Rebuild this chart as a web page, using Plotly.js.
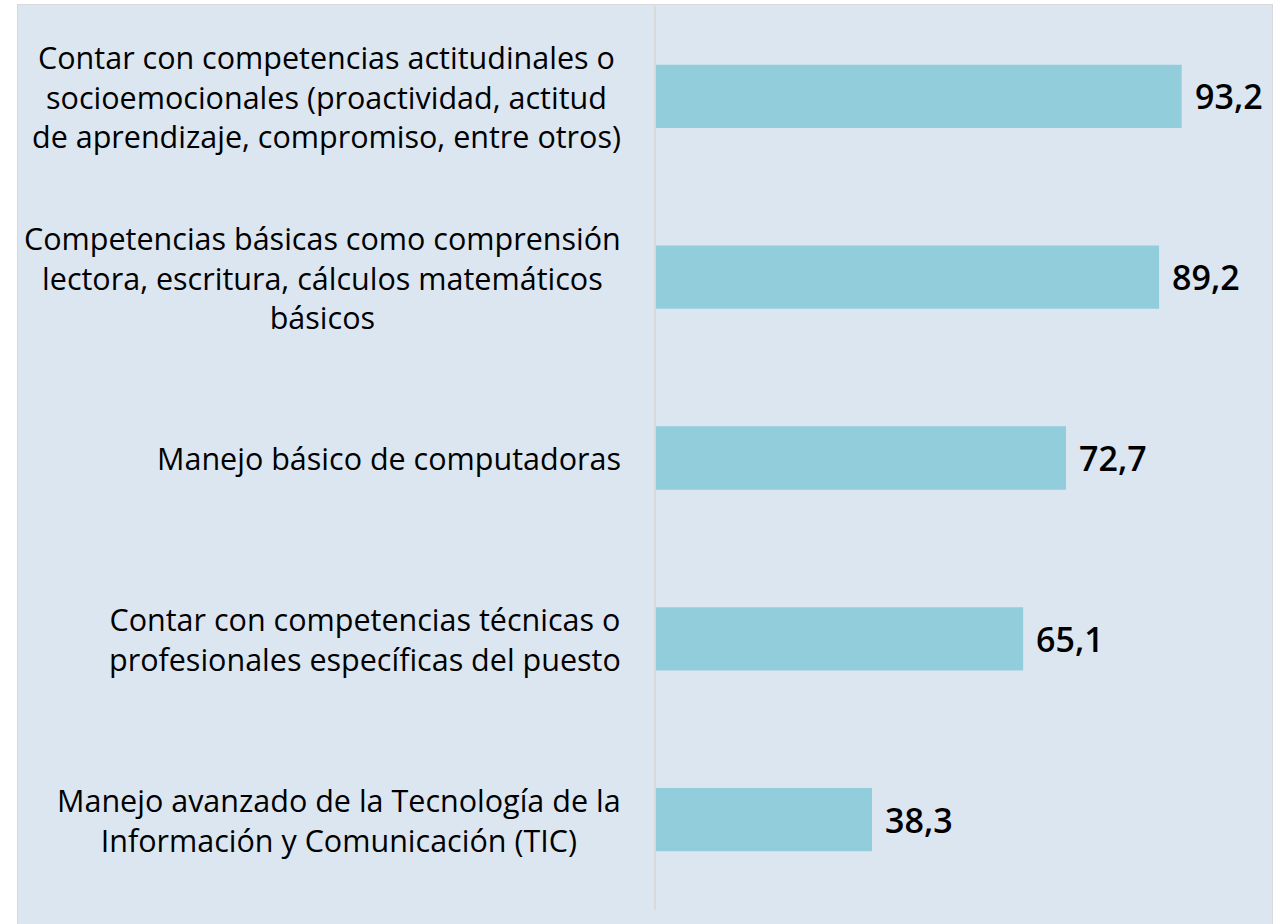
<!DOCTYPE html>
<html>
<head>
<meta charset="utf-8">
<script src="https://cdn.plot.ly/plotly-3.0.1.min.js"></script>
<style>
  html, body { margin: 0; padding: 0; background: #ffffff; }
  #bg { position: absolute; left: 17px; top: 4px; width: 1256px; height: 930px;
        background: #dce6f1; border: 1px solid #d9d9d9; box-sizing: border-box; }
  #chart { position: absolute; left: 0; top: 0; width: 1281px; height: 924px; }
</style>
</head>
<body>
<div id="bg"></div>
<div id="chart"></div>
<script>
const categories = [
  "Contar con competencias actitudinales o<br>socioemocionales (proactividad, actitud<br>de aprendizaje, compromiso, entre otros)",
  "Competencias básicas como comprensión<br>lectora, escritura, cálculos matemáticos<br>básicos",
  "Manejo básico de computadoras",
  "Contar con competencias técnicas o<br>profesionales específicas del puesto",
  "Manejo avanzado de la Tecnología de la<br>Información y Comunicación (TIC)"
];
const values = [93.2, 89.2, 72.7, 65.1, 38.3];
const valueLabels = values.map(v => v.toFixed(1).replace('.', ','));

const trace = {
  type: 'bar',
  orientation: 'h',
  y: categories,
  x: values,
  marker: { color: '#92cddc' },
  hoverinfo: 'none'
};

const valueAnnotations = values.map((v, i) => ({
  x: v, y: categories[i], xref: 'x', yref: 'y',
  text: valueLabels[i], showarrow: false,
  xanchor: 'left', yanchor: 'middle', xshift: 11,
  font: { family: 'Open Sans, sans-serif', size: 34, color: '#000000', weight: 600 }
}));

const categoryAnnotations = categories.map((c, i) => ({
  x: 0, y: c, xref: 'paper', yref: 'y',
  text: c, showarrow: false, align: 'center',
  xanchor: 'right', yanchor: 'middle', xshift: -33,
  font: { family: 'Open Sans, sans-serif', size: 30.5, color: '#000000' }
}));

const layout = {
  width: 1281, height: 924,
  paper_bgcolor: 'rgba(0,0,0,0)',
  plot_bgcolor: 'rgba(0,0,0,0)',
  margin: { l: 656, r: 61, t: 6, b: 14 },
  showlegend: false,
  bargap: 0.65,
  xaxis: { range: [0, 100], showgrid: false, zeroline: false, showticklabels: false,
           showline: false, ticks: '' },
  yaxis: { autorange: 'reversed', showgrid: false, zeroline: false,
           showline: true, linecolor: '#d9d9d9', linewidth: 2,
           ticks: '', showticklabels: false },
  annotations: categoryAnnotations.concat(valueAnnotations)
};

Plotly.newPlot('chart', [trace], layout, { staticPlot: true, displayModeBar: false });
</script>
</body>
</html>
